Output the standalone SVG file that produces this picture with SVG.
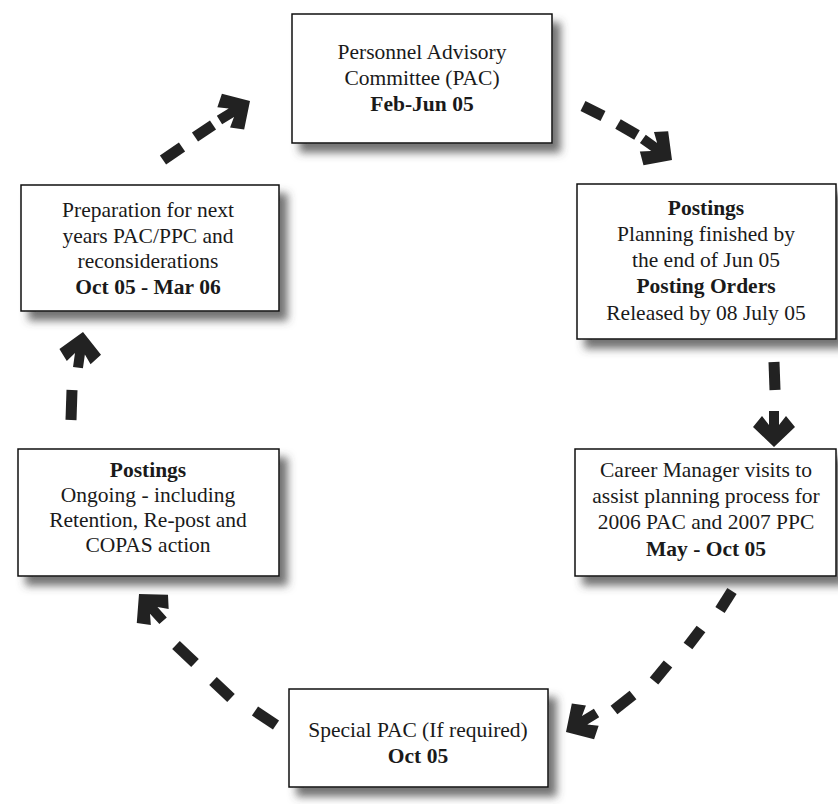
<svg xmlns="http://www.w3.org/2000/svg" width="838" height="804" viewBox="0 0 838 804">
<style>
.box{fill:#fff;stroke:#111;stroke-width:1.5;filter:url(#sh)}
text{font-family:"Liberation Serif","Times New Roman",serif;font-size:21.5px;fill:#1a1a1a;text-anchor:middle}
.b{font-weight:bold}
.dash{stroke:#222;stroke-width:11;stroke-linecap:butt;fill:none}
.head{fill:#222}
</style>
<defs>
<filter id="sh" x="-10%" y="-10%" width="130%" height="140%">
<feDropShadow dx="8" dy="9" stdDeviation="4" flood-color="#444" flood-opacity="0.75"/>
</filter>
<path id="ah" d="M0,0 L-20,-21 L-31,-12 L-22,-5 L-36,-5 L-36,5 L-22,5 L-31,12 L-20,21 Z"/>
</defs>
<rect width="838" height="804" fill="#fff"/>
<g id="connectors">
<g id="c1">
<line class="dash" x1="163" y1="160" x2="182" y2="147"/>
<line class="dash" x1="195" y1="137" x2="213" y2="125"/>
<use href="#ah" class="head" transform="translate(250,101) rotate(-32)"/>
</g>
<g id="c2">
<line class="dash" x1="583" y1="106" x2="603" y2="116"/>
<line class="dash" x1="618" y1="124" x2="637" y2="135"/>
<use href="#ah" class="head" transform="translate(672,160) rotate(36)"/>
</g>
<g id="c3">
<line class="dash" x1="774" y1="362" x2="775" y2="390"/>
<use href="#ah" class="head" transform="translate(774,447) rotate(90)"/>
</g>
<g id="c4">
<line class="dash" x1="732" y1="591" x2="720" y2="610"/>
<line class="dash" x1="701" y1="629" x2="688" y2="646"/>
<line class="dash" x1="668" y1="664" x2="654" y2="681"/>
<line class="dash" x1="633" y1="695" x2="614" y2="710"/>
<use href="#ah" class="head" transform="translate(566,732) rotate(148)"/>
</g>
<g id="c5">
<line class="dash" x1="276" y1="725" x2="255" y2="711"/>
<line class="dash" x1="231" y1="698" x2="213" y2="681"/>
<line class="dash" x1="195" y1="663" x2="176" y2="645"/>
<use href="#ah" class="head" transform="translate(139,594) rotate(-132)"/>
</g>
<g id="c6">
<line class="dash" x1="71" y1="420" x2="72" y2="390"/>
<use href="#ah" class="head" transform="translate(83,332) rotate(-82)"/>
</g>
</g>
<g id="n1">
<rect class="box" x="292" y="14" width="260" height="129"/>
<text x="422" y="59">Personnel Advisory</text>
<text x="422" y="85">Committee (PAC)</text>
<text x="422" y="111" class="b">Feb-Jun 05</text>
</g>
<g id="n2">
<rect class="box" x="577" y="184" width="259" height="155"/>
<text x="706" y="215" class="b">Postings</text>
<text x="706" y="241">Planning finished by</text>
<text x="706" y="267">the end of Jun 05</text>
<text x="706" y="293" class="b">Posting Orders</text>
<text x="706" y="320">Released by 08 July 05</text>
</g>
<g id="n3">
<rect class="box" x="575" y="449" width="261" height="127"/>
<text x="706" y="477">Career Manager visits to</text>
<text x="706" y="503">assist planning process for</text>
<text x="706" y="529">2006 PAC and 2007 PPC</text>
<text x="706" y="556" class="b">May - Oct 05</text>
</g>
<g id="n4">
<rect class="box" x="289" y="689" width="259" height="98"/>
<text x="418" y="737">Special PAC (If required)</text>
<text x="418" y="763" class="b">Oct 05</text>
</g>
<g id="n5">
<rect class="box" x="18" y="449" width="261" height="127"/>
<text x="148" y="477" class="b">Postings</text>
<text x="148" y="502">Ongoing - including</text>
<text x="148" y="527">Retention, Re-post and</text>
<text x="148" y="552">COPAS action</text>
</g>
<g id="n6">
<rect class="box" x="21" y="185" width="258" height="126"/>
<text x="148" y="217">Preparation for next</text>
<text x="148" y="243">years PAC/PPC and</text>
<text x="148" y="268">reconsiderations</text>
<text x="148" y="294" class="b">Oct 05 - Mar 06</text>
</g>
</svg>
